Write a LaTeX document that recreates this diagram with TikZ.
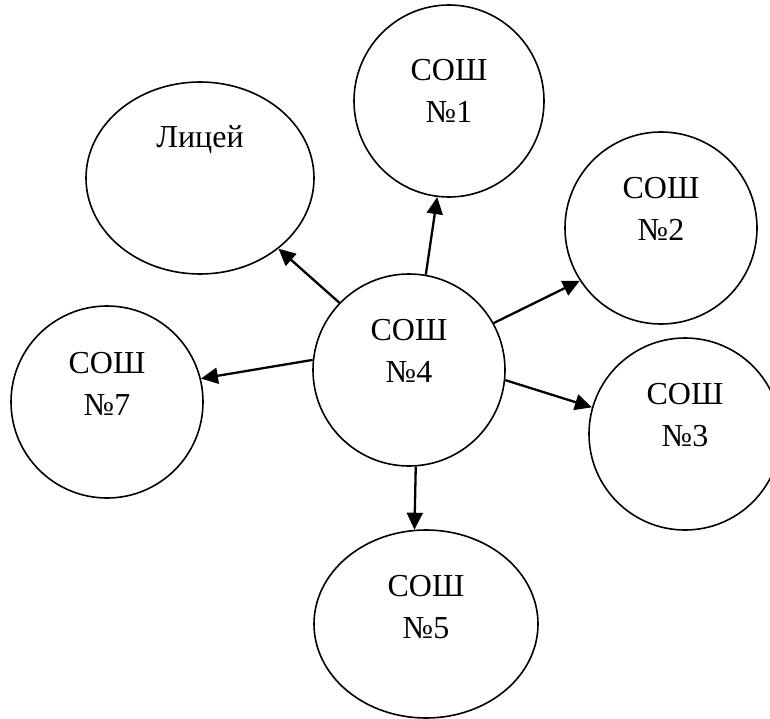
\documentclass[tikz,border=0pt]{standalone}
\usepackage{fontspec}
\setmainfont{Liberation Serif}
\usetikzlibrary{shapes.geometric,arrows.meta}
\begin{document}
\begin{tikzpicture}[x=1pt,y=-1pt,
  blob/.style={ellipse, draw, line width=1.6pt, inner sep=0pt},
  lbl/.style={align=center, inner sep=0pt, font=\fontsize{32}{42}\selectfont},
  link/.style={line width=2.3pt, -{Triangle[length=17pt,width=16pt]}}]
\useasboundingbox (0,0) rectangle (770,719);
\node[blob, minimum width=228pt, minimum height=192pt] (lic) at (200,178) {};
\node[blob, minimum width=190pt, minimum height=192pt] (s1) at (449,101) {};
\node[blob, minimum width=192pt, minimum height=192pt] (s2) at (661,228) {};
\node[blob, minimum width=192pt, minimum height=192pt] (s4) at (409,370) {};
\node[blob, minimum width=192pt, minimum height=192pt] (s7) at (107,402) {};
\node[blob, minimum width=192pt, minimum height=192pt] (s3) at (685,434) {};
\node[blob, minimum width=224pt, minimum height=188pt] (s5) at (426,624) {};
\node[lbl] (tlic) at (200,140) {Лицей};
\node[lbl] (t1) at (449,91) {СОШ\\№1};
\node[lbl] (t2) at (661,209) {СОШ\\№2};
\node[lbl] (t4) at (409,351) {СОШ\\№4};
\node[lbl] (t7) at (107,384) {СОШ\\№7};
\node[lbl] (t3) at (685,415) {СОШ\\№3};
\node[lbl] (t5) at (426,607) {СОШ\\№5};
\draw[link] (s4.136) -- (lic.-42);
\draw[link] (s4.80) -- (s1.-97);
\draw[link] (s4.29) -- (s2.213);
\draw[link] (s4.-6) -- (s3.164);
\draw[link] (s4.174) -- (s7.14);
\draw[link] (s4.-86) -- (s5.97);
\end{tikzpicture}
\end{document}
